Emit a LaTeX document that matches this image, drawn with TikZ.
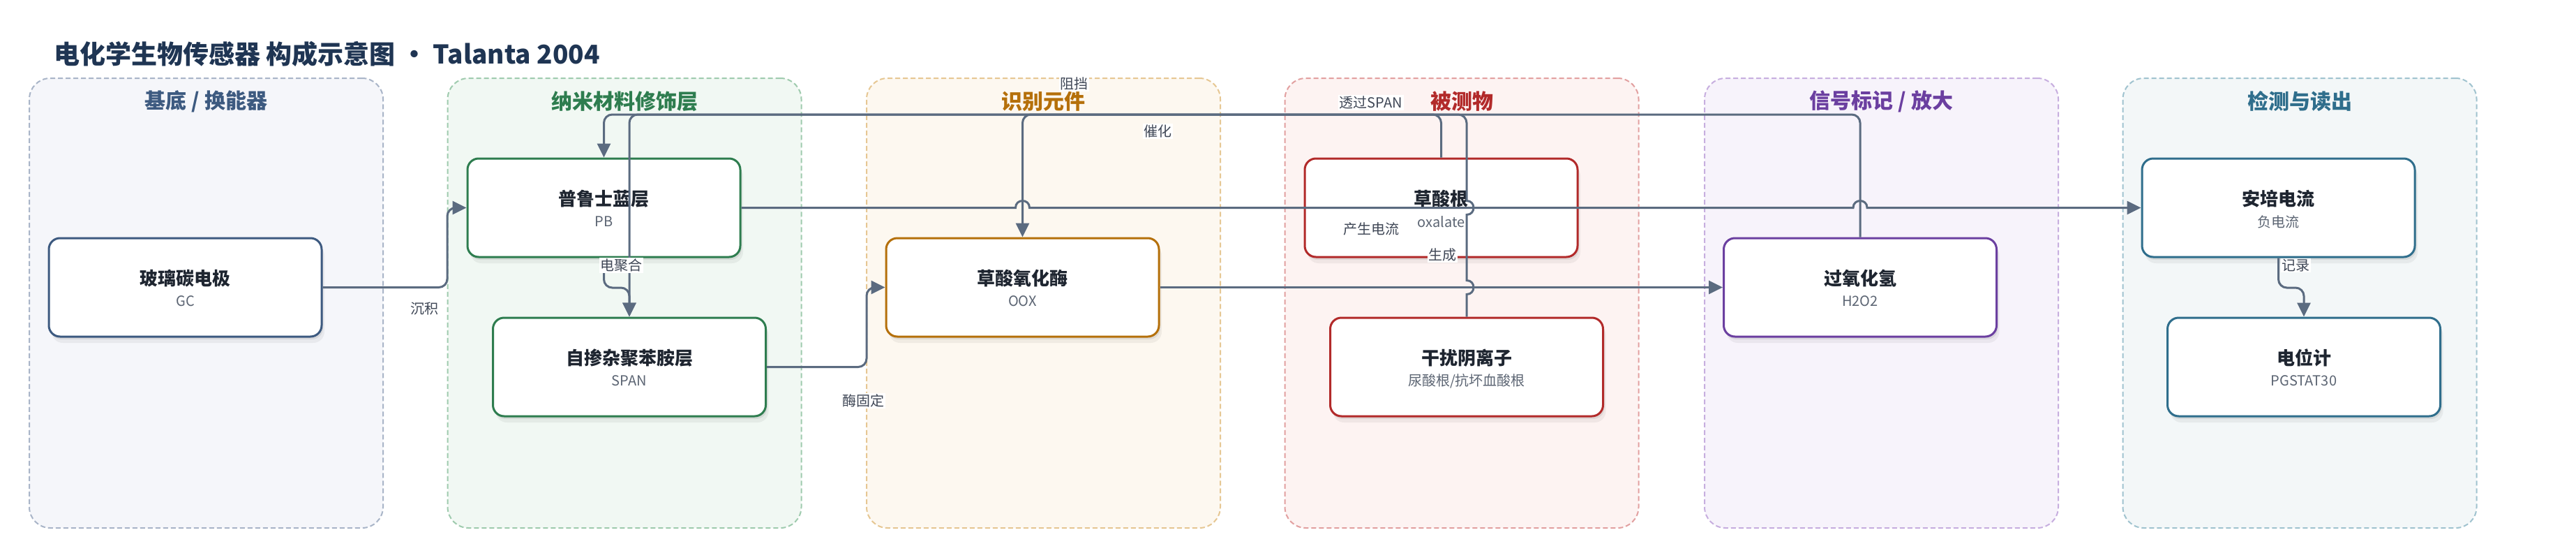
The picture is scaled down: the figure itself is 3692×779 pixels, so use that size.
\documentclass[tikz,border=0pt]{standalone}
\usepackage{fontspec}
\setmainfont{Noto Sans CJK SC}
\usetikzlibrary{arrows.meta,shadows}
\definecolor{ecol}{HTML}{5B6B80}
\definecolor{ttlcol}{HTML}{1F3553}
\definecolor{txtcol}{HTML}{1E2530}
\definecolor{subcol}{HTML}{5C6573}
\definecolor{lblcol}{HTML}{3F4756}
\definecolor{cA}{HTML}{3D5A80}\definecolor{fA}{HTML}{F5F6FA}\definecolor{bA}{HTML}{A9B5C8}
\definecolor{cB}{HTML}{2E7D4F}\definecolor{fB}{HTML}{F1F8F3}\definecolor{bB}{HTML}{9FCBAE}
\definecolor{cC}{HTML}{B5700A}\definecolor{fC}{HTML}{FDF8F0}\definecolor{bC}{HTML}{E6C793}
\definecolor{cD}{HTML}{B22A2A}\definecolor{fD}{HTML}{FDF3F2}\definecolor{bD}{HTML}{E2A0A0}
\definecolor{cE}{HTML}{6B3FA0}\definecolor{fE}{HTML}{F7F3FB}\definecolor{bE}{HTML}{C7AEDF}
\definecolor{cF}{HTML}{2F6E8C}\definecolor{fF}{HTML}{F3F7F8}\definecolor{bF}{HTML}{A0C3CF}
\begin{document}
\begin{tikzpicture}[x=1pt,y=-1pt,
  lane/.style n args={2}{draw=#2, fill=#1, dash pattern=on 7pt off 4pt, line width=2pt,
     rounded corners=30pt, minimum width=507pt, minimum height=644pt, inner sep=0pt},
  lanettl/.style={font=\fontsize{30pt}{36pt}\selectfont\bfseries, text=#1},
  nbox/.style={draw=#1, line width=3pt, fill=white, rounded corners=16pt,
     minimum width=391pt, minimum height=141pt, inner sep=0pt,
     drop shadow={shadow xshift=2pt, shadow yshift=-4pt, opacity=0.07, fill=black},
     drop shadow={shadow xshift=4pt, shadow yshift=-9pt, opacity=0.05, fill=black}},
  ntitle/.style={font=\fontsize{26pt}{31pt}\selectfont\bfseries, text=txtcol, inner sep=0pt},
  nsub/.style={font=\fontsize{20pt}{24pt}\selectfont, text=subcol, inner sep=0pt},
  edge/.style={draw=ecol, line width=3pt, -{Triangle[length=20pt,width=19pt]}},
  elabel/.style={font=\fontsize{20pt}{24pt}\selectfont, text=lblcol, fill=white, inner sep=1.5pt}
]
\useasboundingbox (0,0) rectangle (3692,779);
\fill[white] (0,0) rectangle (3692,779);

% title
\node[anchor=west, inner sep=0pt, font=\fontsize{37pt}{44pt}\selectfont\bfseries, text=ttlcol] (title) at (77,77) {电化学生物传感器 构成示意图 · Talanta 2004};

% lanes
\node[lane={fA}{bA}] (laneA) at (295.5,434) {};
\node[lane={fB}{bB}] (laneB) at (895,434) {};
\node[lane={fC}{bC}] (laneC) at (1495.5,434) {};
\node[lane={fD}{bD}] (laneD) at (2095,434) {};
\node[lane={fE}{bE}] (laneE) at (2696.5,434) {};
\node[lane={fF}{bF}] (laneF) at (3296,434) {};
\node[lanettl=cA] (tA) at (295.5,145) {基底 / 换能器};
\node[lanettl=cB] (tB) at (895,145) {纳米材料修饰层};
\node[lanettl=cC] (tC) at (1495.5,145) {识别元件};
\node[lanettl=cD] (tD) at (2095,145) {被测物};
\node[lanettl=cE] (tE) at (2696.5,145) {信号标记 / 放大};
\node[lanettl=cF] (tF) at (3296,145) {检测与读出};

% nodes
\node[nbox=cA] (gc) at (265.5,411.5) {};
\node[nbox=cB] (pb) at (865.5,297.5) {};
\node[nbox=cB] (span) at (902,525.5) {};
\node[nbox=cC] (oox) at (1465.5,411.5) {};
\node[nbox=cD] (ox) at (2065.5,297.5) {};
\node[nbox=cD] (intf) at (2102,525.5) {};
\node[nbox=cE] (h2o2) at (2666,411.5) {};
\node[nbox=cF] (amp) at (3265.5,297.5) {};
\node[nbox=cF] (pot) at (3302,525.5) {};

\foreach \n/\t/\s in {gc/玻璃碳电极/GC, pb/普鲁士蓝层/PB, span/自掺杂聚苯胺层/SPAN, oox/草酸氧化酶/OOX,
   ox/草酸根/oxalate, intf/干扰阴离子/尿酸根\slash 抗坏血酸根, h2o2/过氧化氢/H2O2, amp/安培电流/负电流, pot/电位计/PGSTAT30}{
  \node[ntitle] (\n-t) at ([yshift=13pt]\n.center) {\t};
  \node[nsub] (\n-s) at ([yshift=-20pt]\n.center) {\s};
}

% edges
\draw[edge, rounded corners=12pt] (gc.east) -- (641,411.5) -- (641,297.5) -- (pb.west);
\draw[edge, rounded corners=12pt] (pb.south) -- (865.5,412) -- (902,412) -- (span.north);
\draw[edge, rounded corners=12pt] (span.east) -- (1242,525.5) -- (1242,411.5) -- (oox.west);
\draw[edge, rounded corners=12pt] (ox.north) -- (2065.5,164) -- (865.5,164) -- (pb.north);
\draw[edge] (intf.north) -- (2102,421.5) .. controls (2115.3,421.5) and (2115.3,401.5) .. (2102,401.5)
   -- (2102,307.5) .. controls (2115.3,307.5) and (2115.3,287.5) .. (2102,287.5)
   -- (2102,260) [rounded corners=12pt] -- (2102,164) -- (902,164) -- (902,200) [sharp corners] -- (span.north);
\draw[edge, rounded corners=12pt] (h2o2.north) -- (2666,164) -- (1465.5,164) -- (oox.north);
\draw[edge] (pb.east) -- (1455.5,297.5) .. controls (1455.5,284.2) and (1475.5,284.2) .. (1475.5,297.5)
   -- (2656,297.5) .. controls (2656,284.2) and (2676,284.2) .. (2676,297.5) -- (amp.west);
\draw[edge] (oox.east) -- (h2o2.west);
\draw[edge, rounded corners=12pt] (amp.south) -- (3265.5,412) -- (3302,412) -- (pot.north);

% edge labels
\node[elabel] (l1) at (608,442) {沉积};
\node[elabel] (l2) at (890,380) {电聚合};
\node[elabel] (l3) at (1237,574) {酶固定};
\node[elabel] (l4) at (1539,120) {阻挡};
\node[elabel] (l5) at (1659,188) {催化};
\node[elabel] (l6) at (1965,147) {透过SPAN};
\node[elabel] (l7) at (1965,328) {产生电流};
\node[elabel] (l8) at (2067,365) {生成};
\node[elabel] (l9) at (3290,380) {记录};
\end{tikzpicture}
\end{document}
